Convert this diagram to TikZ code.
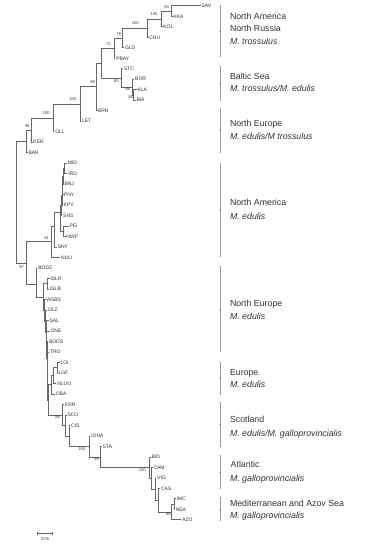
\documentclass[tikz,border=0pt]{standalone}
\usepackage{fontspec}
\setmainfont{Liberation Sans}
\definecolor{treeline}{HTML}{666666}
\definecolor{labtext}{HTML}{333333}
\definecolor{brk}{HTML}{9A9A9A}
\begin{document}
\begin{tikzpicture}[x=1pt,y=-1pt,
  tree/.style={draw=treeline,line width=0.6pt},
  tip/.style={anchor=west,inner xsep=0.8pt,inner ysep=0pt,font=\fontsize{5}{5.5}\selectfont,text=labtext,text height=3.6pt,text depth=0pt},
  bs/.style={inner sep=0pt,font=\fontsize{4.1}{4.5}\selectfont,text=labtext},
  grp/.style={anchor=base west,inner sep=0pt,font=\fontsize{8.8}{10}\selectfont,text=labtext},
  brack/.style={draw=brk,line width=0.9pt},
  brtick/.style={draw=brk,line width=0.4pt}]
\fill[white] (0,0) rectangle (370,550);
\useasboundingbox (0,0) rectangle (370,550);

% ---------- tips ----------
\node[tip] (SAV) at (200.5,5.7) {SAV};
\node[tip] (KKA) at (172.3,16.2) {KKA};
\node[tip] (KOL) at (162.3,26.7) {KOL};
\node[tip] (CHU) at (148.3,37.2) {CHU};
\node[tip] (GLD) at (124,47.7) {GLD};
\node[tip] (PBAY) at (115.3,58.2) {PBAY};
\node[tip] (STC) at (123,68.6) {STC};
\node[tip] (BOR) at (134.2,79.1) {BOR};
\node[tip] (KLA) at (136.5,89.6) {KLA};
\node[tip] (BIA) at (135.5,100.1) {BIA};
\node[tip] (BRN) at (97,110.6) {BRN};
\node[tip] (LET) at (81,121.1) {LET};
\node[tip] (GLL) at (54.3,131.6) {GLL};
\node[tip] (KER) at (32.5,142.1) {KER};
\node[tip] (BAR) at (27.5,152.6) {BAR};
\node[tip] (MID) at (66.8,163.1) {MID};
\node[tip] (IRD) at (67.3,173.5) {IRD};
\node[tip] (BNJ) at (63.5,184.0) {BNJ};
\node[tip] (PNY) at (63,194.5) {PNY};
\node[tip] (KPV) at (62.6,205.0) {KPV};
\node[tip] (SNS) at (62.2,215.5) {SNS};
\node[tip] (PEI) at (68.5,226.0) {PEI};
\node[tip] (NWF) at (65.5,236.5) {NWF};
\node[tip] (SNY) at (56.8,247.0) {SNY};
\node[tip] (NUU) at (60.2,257.5) {NUU};
\node[tip] (BODZ) at (37.3,268.0) {BODZ};
\node[tip] (ISLR) at (49.5,278.4) {ISLR};
\node[tip] (ISLB) at (49,288.9) {ISLB};
\node[tip] (WSBS) at (45.3,299.4) {WSBS};
\node[tip] (DLZ) at (47.3,309.9) {DLZ};
\node[tip] (SAL) at (48.5,320.4) {SAL};
\node[tip] (ONE) at (49.6,330.9) {ONE};
\node[tip] (BODS) at (48,341.4) {BODS};
\node[tip] (TRO) at (49,351.9) {TRO};
\node[tip] (LOI) at (59.5,362.4) {LOI};
\node[tip] (LGF) at (57.5,372.9) {LGF};
\node[tip] (NLOO) at (56.3,383.4) {NLOO};
\node[tip] (OBA) at (54.8,393.8) {OBA};
\node[tip] (KRR) at (64,404.3) {KRR};
\node[tip] (SCO) at (66.5,414.8) {SCO};
\node[tip] (CIS) at (70,425.3) {CIS};
\node[tip] (IONA) at (90.3,435.8) {IONA};
\node[tip] (STA) at (101.5,446.3) {STA};
\node[tip] (BID) at (150.7,456.8) {BID};
\node[tip] (CAM) at (152.5,467.3) {CAM};
\node[tip] (VIG) at (156.3,477.8) {VIG};
\node[tip] (CAS) at (160,488.3) {CAS};
\node[tip] (IMC) at (175.7,498.7) {IMC};
\node[tip] (NEA) at (174.8,509.2) {NEA};
\node[tip] (AZO) at (181.3,519.7) {AZO};

% ---------- internal nodes ----------
\coordinate (n94) at (171.7,10.95);
\coordinate (n100a) at (161.7,18.8);
\coordinate (n100b) at (147.7,28.0);
\coordinate (n76) at (122.3,37.9);
\coordinate (n72) at (114.3,48.0);
\coordinate (n80) at (133.4,94.9);
\coordinate (n98) at (132.7,87.0);
\coordinate (n83) at (121.7,77.8);
\coordinate (nX) at (101.7,62.9);
\coordinate (n99) at (96.7,86.75);
\coordinate (n100c) at (80,103.9);
\coordinate (n100d) at (53.3,117.8);
\coordinate (n96) at (31,129.9);
\coordinate (nTop) at (26,141.3);
\coordinate (T1) at (64.2,168.3);
\coordinate (T2) at (63.2,176.2);
\coordinate (T3) at (62.6,185.4);
\coordinate (T4) at (62,195.2);
\coordinate (T5) at (61.3,205.4);
\coordinate (PN) at (63.7,231.3);
\coordinate (T6) at (60.7,212);
\coordinate (NA2) at (54.7,226);
\coordinate (n91) at (51.7,241.7);
\coordinate (P1) at (47.2,283.7);
\coordinate (LL1) at (57.2,367.7);
\coordinate (LL2) at (53,375.6);
\coordinate (LL3) at (50.8,384.7);
\coordinate (Q7) at (48.3,399.8);
\coordinate (Q6) at (47.6,375.9);
\coordinate (Q5) at (47.1,358.7);
\coordinate (Q4) at (46.6,344.8);
\coordinate (Q3) at (46.1,332.6);
\coordinate (Q2) at (45.6,321.3);
\coordinate (Q1) at (44.5,310.4);
\coordinate (R) at (43.3,297.1);
\coordinate (EU) at (36,284);
\coordinate (n97) at (26,263.5);
\coordinate (root) at (16,202.6);
\coordinate (n88) at (62.3,414.8);
\coordinate (nB) at (65.7,425.3);
\coordinate (nC) at (69,435.8);
\coordinate (n100e) at (89.3,446.3);
\coordinate (n99a) at (100,456.9);
\coordinate (n100f) at (149,467.4);
\coordinate (nG) at (151.5,478.1);
\coordinate (nH) at (155,488.9);
\coordinate (nI) at (158.3,500.1);
\coordinate (n99b) at (171.7,511.8);
\coordinate (nIN) at (174,504.0);

% ---------- branches ----------
\draw[tree] (n94) |- (SAV.west) (n94) |- (KKA.west);
\draw[tree] (n100a) |- (n94) (n100a) |- (KOL.west);
\draw[tree] (n100b) |- (n100a) (n100b) |- (CHU.west);
\draw[tree] (n76) |- (n100b) (n76) |- (GLD.west);
\draw[tree] (n72) |- (n76) (n72) |- (PBAY.west);
\draw[tree] (n80) |- (KLA.west) (n80) |- (BIA.west);
\draw[tree] (n98) |- (BOR.west) (n98) |- (n80);
\draw[tree] (n83) |- (STC.west) (n83) |- (n98);
\draw[tree] (nX) |- (n72) (nX) |- (n83);
\draw[tree] (n99) |- (nX) (n99) |- (BRN.west);
\draw[tree] (n100c) |- (n99) (n100c) |- (LET.west);
\draw[tree] (n100d) |- (n100c) (n100d) |- (GLL.west);
\draw[tree] (n96) |- (n100d) (n96) |- (KER.west);
\draw[tree] (nTop) |- (n96) (nTop) |- (BAR.west);
\draw[tree] (T1) |- (MID.west) (T1) |- (IRD.west);
\draw[tree] (T2) |- (T1) (T2) |- (BNJ.west);
\draw[tree] (T3) |- (T2) (T3) |- (PNY.west);
\draw[tree] (T4) |- (T3) (T4) |- (KPV.west);
\draw[tree] (T5) |- (T4) (T5) |- (SNS.west);
\draw[tree] (PN) |- (PEI.west) (PN) |- (NWF.west);
\draw[tree] (T6) |- (T5) (T6) |- (PN);
\draw[tree] (NA2) |- (T6) (NA2) |- (SNY.west);
\draw[tree] (n91) |- (NA2) (n91) |- (NUU.west);
\draw[tree] (P1) |- (ISLR.west) (P1) |- (ISLB.west);
\draw[tree] (LL1) |- (LOI.west) (LL1) |- (LGF.west);
\draw[tree] (LL2) |- (LL1) (LL2) |- (NLOO.west);
\draw[tree] (LL3) |- (LL2) (LL3) |- (OBA.west);
\draw[tree] (Q7) |- (LL3) (Q7) |- (n88);
\draw[tree] (Q6) |- (TRO.west) (Q6) |- (Q7);
\draw[tree] (Q5) |- (BODS.west) (Q5) |- (Q6);
\draw[tree] (Q4) |- (ONE.west) (Q4) |- (Q5);
\draw[tree] (Q3) |- (SAL.west) (Q3) |- (Q4);
\draw[tree] (Q2) |- (DLZ.west) (Q2) |- (Q3);
\draw[tree] (Q1) |- (WSBS.west) (Q1) |- (Q2);
\draw[tree] (R) |- (P1) (R) |- (Q1);
\draw[tree] (EU) |- (BODZ.west) (EU) |- (R);
\draw[tree] (n97) |- (n91) (n97) |- (EU);
\draw[tree] (root) |- (nTop) (root) |- (n97);
\draw[tree] (nIN) |- (IMC.west) (nIN) |- (NEA.west);
\draw[tree] (n99b) |- (nIN) (n99b) |- (AZO.west);
\draw[tree] (nI) |- (CAS.west) (nI) |- (n99b);
\draw[tree] (nH) |- (VIG.west) (nH) |- (nI);
\draw[tree] (nG) |- (CAM.west) (nG) |- (nH);
\draw[tree] (n100f) |- (BID.west) (n100f) |- (nG);
\draw[tree] (n99a) |- (STA.west) (n99a) |- (n100f);
\draw[tree] (n100e) |- (IONA.west) (n100e) |- (n99a);
\draw[tree] (nC) |- (CIS.west) (nC) |- (n100e);
\draw[tree] (nB) |- (SCO.west) (nB) |- (nC);
\draw[tree] (n88) |- (KRR.west) (n88) |- (nB);

% ---------- bootstrap values ----------
\node[bs] (b94) at (166.7,6.7) {94};
\node[bs] (b100a) at (154,14) {100};
\node[bs] (b100b) at (135.3,23.3) {100};
\node[bs] (b76) at (119,34) {76};
\node[bs] (b72) at (108.3,43.7) {72};
\node[bs] (b83) at (116.3,80.7) {83};
\node[bs] (b98) at (127.7,89.3) {98};
\node[bs] (b80) at (131,97.3) {80};
\node[bs] (b99) at (92.7,81.7) {99};
\node[bs] (b100c) at (72.7,99) {100};
\node[bs] (b100d) at (46,113.3) {100};
\node[bs] (b96) at (27.3,126) {96};
\node[bs] (b91) at (46.7,238.5) {91};
\node[bs] (b97) at (21.7,267.3) {97};
\node[bs] (b88) at (57.7,417.3) {88};
\node[bs] (b100e) at (81.7,449.3) {100};
\node[bs] (b99a) at (96.7,459.5) {99};
\node[bs] (b100f) at (142.3,470.3) {100};
\node[bs] (b99b) at (168.3,514.5) {99};

% ---------- scale bar ----------
\coordinate (sb1) at (37.7,533.3);
\coordinate (sb2) at (52.7,533.3);
\draw[tree,line width=0.5pt] (sb1) -- (sb2);
\draw[tree,line width=0.5pt] ([yshift=1.3pt]sb1) -- ([yshift=-1.3pt]sb1);
\draw[tree,line width=0.5pt] ([yshift=1.3pt]sb2) -- ([yshift=-1.3pt]sb2);
\node[bs] (sbl) at (45,539.5) {0.05};

% ---------- group brackets ----------
\foreach \ya/\yb in {5/56.7, 65.7/100.7, 108.3/152.7, 162.7/256.7, 266/351.7, 361.7/395, 402.3/446.7, 455/489.3, 497.3/520.7}{
  \draw[brack] (220.7,\ya) -- (220.7,\yb);
  \draw[brtick] (220.7,{(\ya+\yb)/2}) -- ++(-1.3,0);
}

% ---------- group labels ----------
\node[grp] (g1a) at (229.8,19.3) {North America};
\node[grp] (g1b) at (229.8,31.6) {North Russia};
\node[grp] (g1c) at (229.8,44.3) {\itshape M. trossulus};
\node[grp] (g2a) at (229.8,79.3) {Baltic Sea};
\node[grp] (g2b) at (229.8,91.6) {\itshape M. trossulus/M. edulis};
\node[grp] (g3a) at (229.8,126) {North Europe};
\node[grp] (g3b) at (229.8,139) {\itshape M. edulis/M trossulus};
\node[grp] (g4a) at (229.8,205.6) {North America};
\node[grp] (g4b) at (229.8,219) {\itshape M. edulis};
\node[grp] (g5a) at (229.8,306) {North Europe};
\node[grp] (g5b) at (229.8,319.3) {\itshape M. edulis};
\node[grp] (g6a) at (229.8,375.6) {Europe};
\node[grp] (g6b) at (229.8,387.3) {\itshape M. edulis};
\node[grp] (g7a) at (229.8,422.3) {Scotland};
\node[grp] (g7b) at (229.8,436.6) {\itshape M. edulis/M. galloprovincialis};
\node[grp] (g8a) at (230.5,467.3) {Atlantic};
\node[grp] (g8b) at (229.8,481) {\itshape M. galloprovincialis};
\node[grp] (g9a) at (229.8,506.6) {Mediterranean and Azov Sea};
\node[grp] (g9b) at (229.8,518.3) {\itshape M. galloprovincialis};
\end{tikzpicture}
\end{document}
